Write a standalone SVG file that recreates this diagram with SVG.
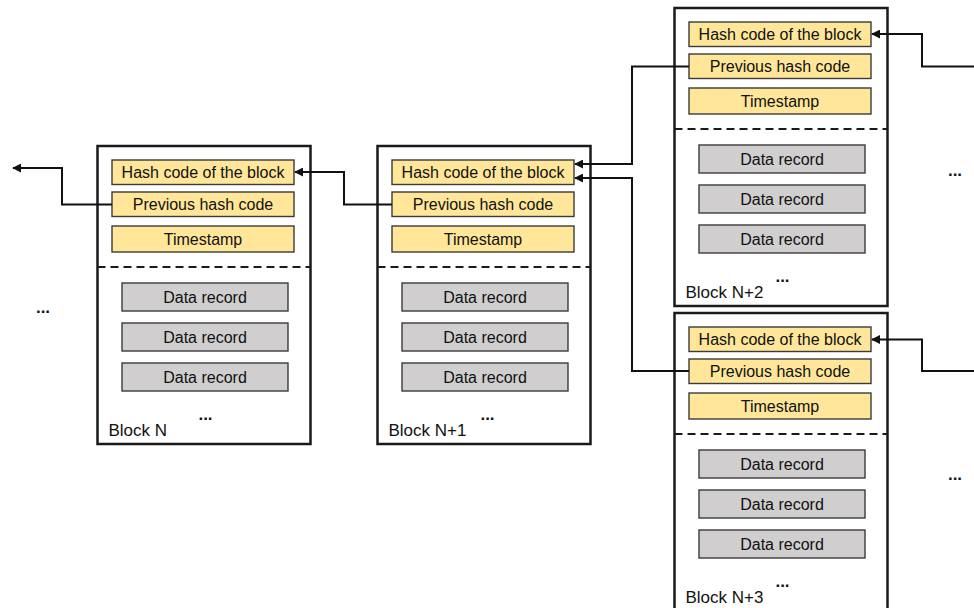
<svg xmlns="http://www.w3.org/2000/svg" width="974" height="608" viewBox="0 0 974 608">
  <style>
    .block { fill: #ffffff; stroke: #1a1a1a; stroke-width: 2.5; }
    .divider { stroke: #1a1a1a; stroke-width: 2; stroke-dasharray: 8 5; fill: none; }
    .hdr { fill: #FFE699; stroke: #3b3b3b; stroke-width: 1.4; }
    .rec { fill: #D0CECE; stroke: #3b3b3b; stroke-width: 1.4; }
    text { font-family: "Liberation Sans", Arial, sans-serif; font-size: 16px; fill: #111111; }
    .c { text-anchor: middle; }
    .lbl { font-size: 17px; }
    .dots { font-size: 17px; font-weight: bold; }
    .link { fill: none; stroke: #111111; stroke-width: 2; marker-end: url(#arrow); }
  </style>
  <defs>
    <marker id="arrow" viewBox="0 0 10 10" refX="9" refY="5" markerWidth="4.5" markerHeight="4.5" orient="auto" markerUnits="strokeWidth">
      <path d="M0,0 L10,5 L0,10 z" fill="#111111"/>
    </marker>
  </defs>

  <!-- Block N -->
  <g id="block-n" transform="translate(97.5,146)">
    <rect class="block" x="0" y="0" width="213" height="298"/>
    <line class="divider" x1="0" y1="121" x2="213" y2="121"/>
    <rect class="hdr" x="14.5" y="14" width="182" height="24.5"/>
    <text class="c" x="105.5" y="31.8">Hash code of the block</text>
    <rect class="hdr" x="14.5" y="46" width="182" height="24.5"/>
    <text class="c" x="105.5" y="63.8">Previous hash code</text>
    <rect class="hdr" x="14.5" y="80" width="182" height="26"/>
    <text class="c" x="105.5" y="98.8">Timestamp</text>
    <rect class="rec" x="24.5" y="137" width="166" height="28"/>
    <text class="c" x="107.5" y="156.8">Data record</text>
    <rect class="rec" x="24.5" y="177" width="166" height="28"/>
    <text class="c" x="107.5" y="196.8">Data record</text>
    <rect class="rec" x="24.5" y="217" width="166" height="28"/>
    <text class="c" x="107.5" y="236.8">Data record</text>
    <text class="c dots" x="108" y="274">...</text>
    <text class="lbl" x="11" y="289.5">Block N</text>
  </g>

  <!-- Block N+1 -->
  <g id="block-n1" transform="translate(377.5,146)">
    <rect class="block" x="0" y="0" width="213" height="298"/>
    <line class="divider" x1="0" y1="121" x2="213" y2="121"/>
    <rect class="hdr" x="14.5" y="14" width="182" height="24.5"/>
    <text class="c" x="105.5" y="31.8">Hash code of the block</text>
    <rect class="hdr" x="14.5" y="46" width="182" height="24.5"/>
    <text class="c" x="105.5" y="63.8">Previous hash code</text>
    <rect class="hdr" x="14.5" y="80" width="182" height="26"/>
    <text class="c" x="105.5" y="98.8">Timestamp</text>
    <rect class="rec" x="24.5" y="137" width="166" height="28"/>
    <text class="c" x="107.5" y="156.8">Data record</text>
    <rect class="rec" x="24.5" y="177" width="166" height="28"/>
    <text class="c" x="107.5" y="196.8">Data record</text>
    <rect class="rec" x="24.5" y="217" width="166" height="28"/>
    <text class="c" x="107.5" y="236.8">Data record</text>
    <text class="c dots" x="110" y="274">...</text>
    <text class="lbl" x="11" y="289.5">Block N+1</text>
  </g>

  <!-- Block N+2 -->
  <g id="block-n2" transform="translate(674.5,8)">
    <rect class="block" x="0" y="0" width="213" height="298"/>
    <line class="divider" x1="0" y1="121" x2="213" y2="121"/>
    <rect class="hdr" x="14.5" y="14" width="182" height="24.5"/>
    <text class="c" x="105.5" y="31.8">Hash code of the block</text>
    <rect class="hdr" x="14.5" y="46" width="182" height="24.5"/>
    <text class="c" x="105.5" y="63.8">Previous hash code</text>
    <rect class="hdr" x="14.5" y="80" width="182" height="26"/>
    <text class="c" x="105.5" y="98.8">Timestamp</text>
    <rect class="rec" x="24.5" y="137" width="166" height="28"/>
    <text class="c" x="107.5" y="156.8">Data record</text>
    <rect class="rec" x="24.5" y="177" width="166" height="28"/>
    <text class="c" x="107.5" y="196.8">Data record</text>
    <rect class="rec" x="24.5" y="217" width="166" height="28"/>
    <text class="c" x="107.5" y="236.8">Data record</text>
    <text class="c dots" x="108" y="274">...</text>
    <text class="lbl" x="11" y="289.5">Block N+2</text>
  </g>

  <!-- Block N+3 -->
  <g id="block-n3" transform="translate(674.5,313)">
    <rect class="block" x="0" y="0" width="213" height="298"/>
    <line class="divider" x1="0" y1="121" x2="213" y2="121"/>
    <rect class="hdr" x="14.5" y="14" width="182" height="24.5"/>
    <text class="c" x="105.5" y="31.8">Hash code of the block</text>
    <rect class="hdr" x="14.5" y="46" width="182" height="24.5"/>
    <text class="c" x="105.5" y="63.8">Previous hash code</text>
    <rect class="hdr" x="14.5" y="80" width="182" height="26"/>
    <text class="c" x="105.5" y="98.8">Timestamp</text>
    <rect class="rec" x="24.5" y="137" width="166" height="28"/>
    <text class="c" x="107.5" y="156.8">Data record</text>
    <rect class="rec" x="24.5" y="177" width="166" height="28"/>
    <text class="c" x="107.5" y="196.8">Data record</text>
    <rect class="rec" x="24.5" y="217" width="166" height="28"/>
    <text class="c" x="107.5" y="236.8">Data record</text>
    <text class="c dots" x="108" y="274">...</text>
    <text class="lbl" x="11" y="289.5">Block N+3</text>
  </g>

  <!-- Hash links: each "Previous hash code" points at the parent's block hash -->
  <g id="connectors">
    <path class="link" d="M112,204.5 H62 V168 H13"/>
    <path class="link" d="M392,204.5 H344 V172 H295"/>
    <path class="link" d="M689,66.5 H632 V164 H575"/>
    <path class="link" d="M689,371 H632 V178 H575"/>
    <path class="link" d="M974,66.5 H922 V34 H872"/>
    <path class="link" d="M974,371 H922 V339.5 H872"/>
  </g>

  <!-- Continuation marks outside the blocks -->
  <g id="ellipses">
    <text class="c dots" x="43" y="313">...</text>
    <text class="c dots" x="955" y="176">...</text>
    <text class="c dots" x="955" y="480">...</text>
  </g>
</svg>
